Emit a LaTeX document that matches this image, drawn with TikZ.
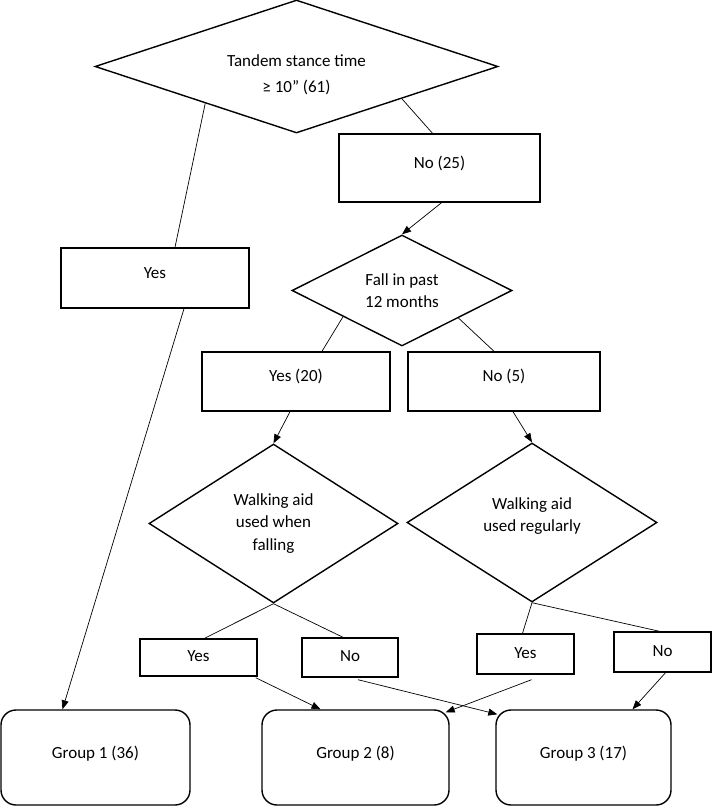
\documentclass[tikz,border=0pt]{standalone}
\usepackage{fontspec}
\setmainfont{Carlito}
\usepackage{tikz}
\usetikzlibrary{arrows.meta,positioning,shapes.geometric}

\begin{document}
\begin{tikzpicture}[x=1bp,y=-1bp,
    font=\fontsize{17bp}{22.5bp}\selectfont,
    decision/.style={draw,diamond,aspect=2,inner sep=0pt,line width=1.4bp,align=center},
    answer/.style={draw,rectangle,inner sep=0pt,line width=1.4bp,text height=12bp,text depth=12bp},
    smallanswer/.style={answer,text depth=4bp},
    group/.style={draw,rectangle,rounded corners=15bp,inner sep=0pt,line width=1.4bp,
        minimum height=95bp,text height=12bp,text depth=10bp},
    link/.style={line width=0.7bp},
    flow/.style={link,-{Triangle[length=9bp,width=7bp]}}]
    \useasboundingbox (0,0) rectangle (712,806);

    % first question
    \node[decision,minimum width=403bp,minimum height=133bp] (tandem) at (296.5,66.5)
        {\rule{0pt}{28bp}Tandem stance time\\[4bp]≥ 10” (61)};
    \node[answer,minimum width=188bp,minimum height=60bp] (yesT) at (155,278) {Yes};
    \node[answer,minimum width=201bp,minimum height=68bp] (noT) at (439.5,168) {No (25)};
    \draw[link] (tandem.202) -- ([xshift=20bp]yesT.north);
    \draw[link] (tandem.-17.6) -- ([xshift=-7bp]noT.north);

    % falls
    \node[decision,minimum width=220bp,minimum height=111bp] (fall) at (402,290.5)
        {Fall in past\\12 months};
    \draw[flow] ([xshift=2bp]noT.south) -- (fall.north);
    \node[answer,minimum width=188bp,minimum height=59bp] (yesF) at (296,381.5) {Yes (20)};
    \node[answer,minimum width=192bp,minimum height=59bp] (noF) at (504,381.5) {No (5)};
    \draw[link] (fall.204) -- ([xshift=26bp]yesF.north);
    \draw[link] (fall.-26) -- ([xshift=-10bp]noF.north);

    % walking aid
    \node[decision,minimum width=249bp,minimum height=159bp] (aidF) at (273.5,523.5)
        {Walking aid\\used when\\falling};
    \node[decision,minimum width=250bp,minimum height=159bp] (aidR) at (532,522.5)
        {Walking aid\\used regularly\rule[-16bp]{0pt}{16bp}};
    \draw[flow] ([xshift=-6bp]yesF.south) -- (aidF.north);
    \draw[flow] ([xshift=9bp]noF.south) -- (aidR.north);

    \node[smallanswer,minimum width=117bp,minimum height=37bp] (yesAF) at (198.5,657.5) {Yes};
    \node[smallanswer,minimum width=96bp,minimum height=39bp] (noAF) at (350,657.5) {No};
    \node[smallanswer,minimum width=97bp,minimum height=40bp] (yesAR) at (525.5,654) {Yes};
    \node[smallanswer,minimum width=97bp,minimum height=40bp] (noAR) at (662.5,652) {No};
    \draw[link] (aidF.south) -- ([xshift=6bp]yesAF.north);
    \draw[link] (aidF.south) -- ([xshift=-7bp]noAF.north);
    \draw[link] (aidR.south) -- ([xshift=-3bp]yesAR.north);
    \draw[link] (aidR.south) -- ([xshift=-3bp]noAR.north);

    % groups
    \node[group,minimum width=189bp] (grpA) at (95.5,757.5) {Group 1 (36)};
    \node[group,minimum width=187bp] (grpB) at (355.5,757.5) {Group 2 (8)};
    \node[group,minimum width=175bp] (grpC) at (583.5,757.5) {Group 3 (17)};
    \draw[flow] ([xshift=29bp]yesT.south) -- ([xshift=-33bp]grpA.north);
    \draw[flow] ([xshift=-2bp,yshift=-1bp]yesAF.south east) -- ([xshift=-35bp]grpB.north);
    \draw[flow] ([xshift=8bp,yshift=-2bp]noAF.south) -- ([xshift=2bp,yshift=-5bp]grpC.north west);
    \draw[flow] ([xshift=6bp,yshift=-5bp]yesAR.south) -- ([xshift=-4bp,yshift=-3bp]grpB.north east);
    \draw[flow] ([xshift=3bp]noAR.south) -- ([xshift=49bp]grpC.north);
\end{tikzpicture}
\end{document}
